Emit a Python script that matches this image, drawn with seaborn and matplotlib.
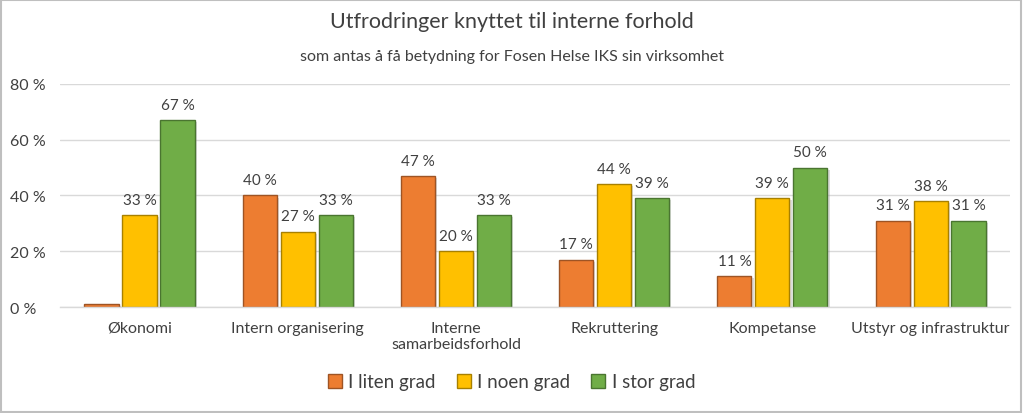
import matplotlib
matplotlib.use("Agg")
import matplotlib.pyplot as plt
import matplotlib.patheffects as pe
import seaborn as sns
import pandas as pd
from matplotlib.patches import Rectangle, Patch

categories = ["Økonomi", "Intern organisering", "Interne\nsamarbeidsforhold",
              "Rekruttering", "Kompetanse", "Utstyr og infrastruktur"]
series = ["I liten grad", "I noen grad", "I stor grad"]
liten = [1, 40, 47, 17, 11, 31]
noen = [33, 27, 20, 44, 39, 38]
stor = [67, 33, 33, 39, 50, 31]
yticks = [0, 20, 40, 60, 80]

colors = ["#ED7D31", "#FFC000", "#70AD47"]
edges = ["#9E5424", "#A88000", "#4A7530"]

rows = []
for s, vals in zip(series, [liten, noen, stor]):
    for c, v in zip(categories, vals):
        rows.append({"cat": c, "val": v, "series": s})
df = pd.DataFrame(rows)

sns.set_theme(style="white")
plt.rcParams["font.family"] = ["Lato", "DejaVu Sans"]
text_col = "#404040"

fig = plt.figure(figsize=(10.23, 4.14), dpi=100)
ax = fig.add_axes([0.059, 0.256, 0.928, 0.539])

sns.barplot(data=df, x="cat", y="val", hue="series", palette=colors,
            width=0.72, gap=0.1, ax=ax, legend=False, saturation=1)

shadow = [pe.SimplePatchShadow(offset=(1.5, -1.5), shadow_rgbFace="#9a9a9a", alpha=0.35),
          pe.Normal()]
for cont, ec, vals in zip(ax.containers, edges, [liten, noen, stor]):
    for bar in cont:
        bar.set_edgecolor(ec)
        bar.set_linewidth(1.0)
        bar.set_path_effects(shadow)
    labels = [f"{v} %" if v >= 5 else "" for v in vals]
    ax.bar_label(cont, labels=labels, padding=6, fontsize=11, color=text_col)

ax.set_ylim(0, 80)
ax.set_yticks(yticks)
ax.set_yticklabels([f"{t} %" for t in yticks], fontsize=11.5, color=text_col)
ax.set_xlim(-0.5, len(categories) - 0.5)
ax.tick_params(axis="x", labelsize=11.5, labelcolor=text_col, pad=10, length=0)
ax.tick_params(axis="y", pad=36, length=0)
for lbl in ax.get_yticklabels():
    lbl.set_horizontalalignment("left")
ax.set_xlabel("")
ax.set_ylabel("")
ax.yaxis.grid(True, color="#D9D9D9", linewidth=1)
ax.set_axisbelow(True)
for sp in ["left", "right", "top"]:
    ax.spines[sp].set_visible(False)
ax.spines["bottom"].set_color("#D9D9D9")
ax.spines["bottom"].set_linewidth(1)

fig.text(0.5, 0.947, "Utfrodringer knyttet til interne forhold", ha="center",
         va="center", fontsize=15.5, color=text_col)
fig.text(0.5, 0.862, "som antas å få betydning for Fosen Helse IKS sin virksomhet",
         ha="center", va="center", fontsize=11.5, color=text_col)

handles = [Patch(facecolor=c, edgecolor=e, linewidth=1) for c, e in zip(colors, edges)]
fig.legend(handles, series, loc="center", bbox_to_anchor=(0.5, 0.075), ncol=3,
           frameon=False, fontsize=13.5, handlelength=0.75, handleheight=0.75,
           handletextpad=0.35, columnspacing=1.1, labelcolor=text_col)

fig.patches.append(Rectangle((0.001, 0.002), 0.997, 0.995, transform=fig.transFigure,
                             fill=False, edgecolor="#BFBFBF", linewidth=1.5))

fig.savefig("out.png", dpi=100)
